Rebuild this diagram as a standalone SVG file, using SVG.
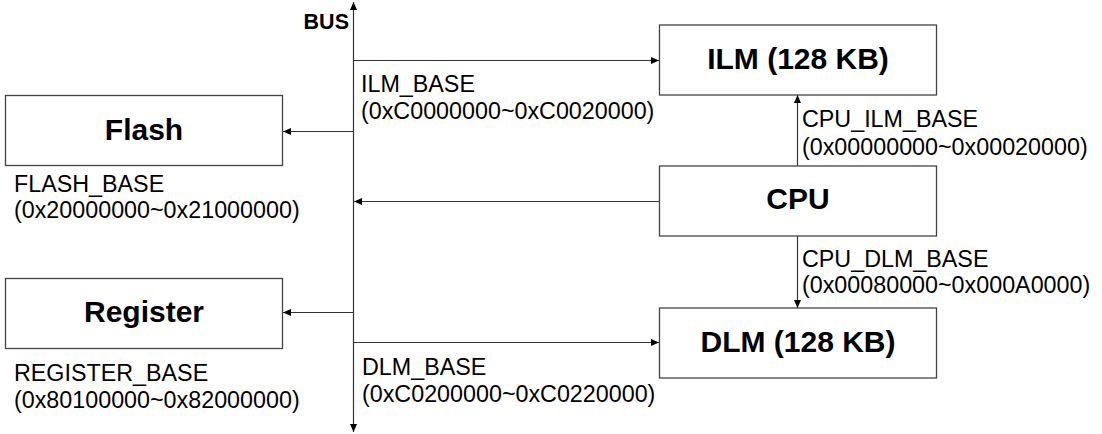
<svg xmlns="http://www.w3.org/2000/svg" width="1102" height="434" viewBox="0 0 1102 434">
<style>
.box{fill:#fff;stroke:#444;stroke-width:1.3}
.title{font-family:"Liberation Sans",Arial,sans-serif;font-weight:bold;font-size:30px;fill:#000;text-anchor:middle}
.lbl{font-family:"Liberation Sans",Arial,sans-serif;font-size:23.3px;fill:#000}
.conn{fill:none;stroke:#333;stroke-width:1.2}
</style>
<defs>
<marker id="ah" markerUnits="userSpaceOnUse" markerWidth="9" markerHeight="8" refX="8" refY="3.5" orient="auto-start-reverse">
<path d="M0,0 L8,3.5 L0,7 z" fill="#000"/>
</marker>
</defs>
<rect width="1102" height="434" fill="#fff"/>
<g id="connectors">
<path class="conn" d="M353.5,2 V432" marker-start="url(#ah)" marker-end="url(#ah)"/>
<path class="conn" d="M353.5,60.5 H659" marker-end="url(#ah)"/>
<path class="conn" d="M353.5,131.5 H283" marker-end="url(#ah)"/>
<path class="conn" d="M659,201.5 H354" marker-end="url(#ah)"/>
<path class="conn" d="M353.5,312.5 H283" marker-end="url(#ah)"/>
<path class="conn" d="M353.5,342.5 H659" marker-end="url(#ah)"/>
<path class="conn" d="M797.5,166 V95" marker-end="url(#ah)"/>
<path class="conn" d="M797.5,236 V308" marker-end="url(#ah)"/>
</g>
<g id="bus-label"><text class="title" style="font-size:21.5px;text-anchor:end" x="349" y="29">BUS</text></g>
<g id="ilm">
<rect class="box" x="659.5" y="25" width="277" height="70"/>
<text class="title" x="798" y="69">ILM (128 KB)</text>
</g>
<g id="cpu">
<rect class="box" x="659.5" y="166" width="277" height="70"/>
<text class="title" x="798" y="209">CPU</text>
</g>
<g id="dlm">
<rect class="box" x="659.5" y="308" width="277" height="70"/>
<text class="title" x="798" y="352">DLM (128 KB)</text>
</g>
<g id="flash">
<rect class="box" x="5.5" y="95.5" width="277" height="70"/>
<text class="title" x="144" y="140">Flash</text>
</g>
<g id="register">
<rect class="box" x="5.5" y="278.5" width="277" height="70"/>
<text class="title" x="144" y="322">Register</text>
</g>
<g id="labels">
<text class="lbl" x="361" y="92">ILM_BASE</text>
<text class="lbl" x="361" y="119">(0xC0000000~0xC0020000)</text>
<text class="lbl" x="14" y="192">FLASH_BASE</text>
<text class="lbl" x="14" y="218">(0x20000000~0x21000000)</text>
<text class="lbl" x="802" y="127">CPU_ILM_BASE</text>
<text class="lbl" x="802" y="155">(0x00000000~0x00020000)</text>
<text class="lbl" x="802" y="267">CPU_DLM_BASE</text>
<text class="lbl" x="802" y="293">(0x00080000~0x000A0000)</text>
<text class="lbl" x="14" y="381">REGISTER_BASE</text>
<text class="lbl" x="14" y="408">(0x80100000~0x82000000)</text>
<text class="lbl" x="362" y="375">DLM_BASE</text>
<text class="lbl" x="362" y="402">(0xC0200000~0xC0220000)</text>
</g>
</svg>
